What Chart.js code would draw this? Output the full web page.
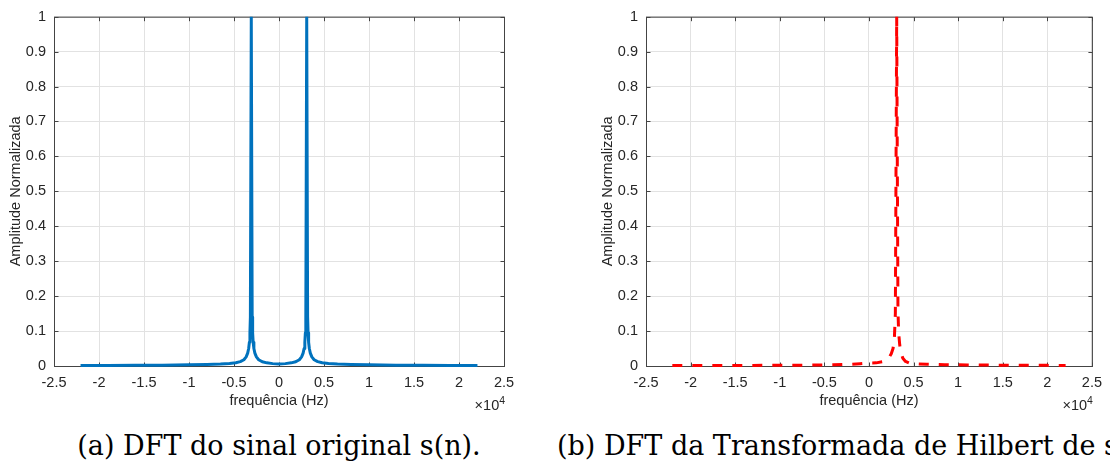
<!DOCTYPE html>
<html>
<head>
<meta charset="utf-8">
<script src="https://cdn.jsdelivr.net/npm/chart.js@4.4.1/dist/chart.umd.min.js"></script>
<style>
  html, body { margin: 0; padding: 0; background: #fff; }
  #wrap { position: relative; width: 1110px; height: 466px; overflow: hidden; background: #fff; }
  canvas { position: absolute; top: 0; }
  #chartA { left: 0; }
  #chartB { left: 592px; }
  .cap { position: absolute; top: 430px; height: 32px; line-height: 32px;
         font-family: 'DejaVu Serif', 'Liberation Serif', serif; font-size: 27px;
         white-space: nowrap; color: #000; }
  #capA { left: 279px; transform: translateX(-50%); }
  #capB { left: 557px; }
</style>
</head>
<body>
<div id="wrap">
  <canvas id="chartA" width="555" height="430"></canvas>
  <canvas id="chartB" width="518" height="430"></canvas>
  <div class="cap" id="capA">(a) DFT do sinal original s(n).</div>
  <div class="cap" id="capB">(b) DFT da Transformada de Hilbert de s(n).</div>
</div>
<script>
// Frequency axis (Hz) and normalised magnitude of the original signal's DFT
const freqOriginal = [
  -22050, -19000, -16000, -13000, -10000, -8000, -6500, -5500, -4800, -4300,
  -3900, -3650, -3480, -3370, -3290, -3230, -3180,
  -3080, -2980, -2930, -2870, -2790, -2680, -2510,
  -2260, -1860, -1360, -700, 0, 700, 1360, 1860, 2260, 2510,
  2680, 2790, 2870, 2930, 2980, 3080,
  3180, 3230, 3290, 3370, 3480, 3650, 3900, 4300,
  4800, 5500, 6500, 8000, 10000, 13000, 16000, 19000, 22050
];
const ampOriginal = [
  0.0015, 0.0017, 0.0020, 0.0025, 0.0033, 0.0043, 0.0056, 0.0072, 0.0092, 0.0125,
  0.018, 0.026, 0.037, 0.050, 0.068, 0.095, 0.14,
  1.0, 0.14, 0.095, 0.068, 0.050, 0.037, 0.026,
  0.018, 0.012, 0.009, 0.0068, 0.0055, 0.0068, 0.009, 0.012, 0.018, 0.026,
  0.037, 0.050, 0.068, 0.095, 0.14, 1.0,
  0.14, 0.095, 0.068, 0.050, 0.037, 0.026, 0.018, 0.0125,
  0.0092, 0.0072, 0.0056, 0.0043, 0.0033, 0.0025, 0.0020, 0.0017, 0.0015
];

// Frequency axis (Hz) and normalised magnitude of the Hilbert transform's DFT
const freqHilbert = [
  -22050, -19000, -16000, -13000, -10000, -7000, -4000, -2000, -1000, 0,
  800, 1500, 2000, 2300, 2500, 2700, 2850, 2960,
  3110, 3250, 3330, 3450, 3600, 3800, 4100, 4500,
  5200, 6500, 8500, 11000, 14000, 17000, 20000, 22050
];
const ampHilbert = [
  0.0012, 0.0013, 0.0015, 0.0017, 0.0020, 0.0025, 0.0035, 0.0050, 0.0065, 0.0085,
  0.0090, 0.012, 0.017, 0.026, 0.035, 0.050, 0.080, 0.15,
  1.0, 0.16, 0.095, 0.060, 0.038, 0.022, 0.013, 0.0085,
  0.0065, 0.0050, 0.0038, 0.0030, 0.0025, 0.0020, 0.0018, 0.0016
];

// Axis ticks
const xTickValues = [-25000, -20000, -15000, -10000, -5000, 0, 5000, 10000, 15000, 20000, 25000];
const xTickLabels = ['-2.5', '-2', '-1.5', '-1', '-0.5', '0', '0.5', '1', '1.5', '2', '2.5'];
const yTickValues = [0, 0.1, 0.2, 0.3, 0.4, 0.5, 0.6, 0.7, 0.8, 0.9, 1];
const yTickLabels = ['0', '0.1', '0.2', '0.3', '0.4', '0.5', '0.6', '0.7', '0.8', '0.9', '1'];

const xTitle = 'frequência (Hz)';
const yTitle = 'Amplitude Normalizada';
const xExponent = '4';

const FONT = "'Liberation Sans', Arial, Helvetica, sans-serif";
const FONT_SIZE = 14.5;
const TEXT = '#262626';
const AXIS = '#444444';
const GRID = '#e2e2e2';

// Boxed axes with inward ticks on all four sides, axis titles and the x10^n multiplier
const boxedAxes = {
  id: 'boxedAxes',
  beforeDatasetsDraw(chart) {
    const { ctx, chartArea: a, scales: { x, y } } = chart;
    ctx.save();
    ctx.strokeStyle = AXIS;
    ctx.lineWidth = 1;
    ctx.strokeRect(a.left + 0.5, a.top + 0.5, a.right - a.left, a.bottom - a.top);
    const tl = 4;
    ctx.beginPath();
    xTickValues.forEach(v => {
      const px = Math.round(x.getPixelForValue(v)) + 0.5;
      ctx.moveTo(px, a.bottom + 0.5); ctx.lineTo(px, a.bottom + 0.5 - tl);
      ctx.moveTo(px, a.top + 0.5); ctx.lineTo(px, a.top + 0.5 + tl);
    });
    yTickValues.forEach(v => {
      const py = Math.round(y.getPixelForValue(v)) + 0.5;
      ctx.moveTo(a.left + 0.5, py); ctx.lineTo(a.left + 0.5 + tl, py);
      ctx.moveTo(a.right + 0.5, py); ctx.lineTo(a.right + 0.5 - tl, py);
    });
    ctx.stroke();
    ctx.restore();
  },
  afterDraw(chart) {
    const { ctx, chartArea: a } = chart;
    ctx.save();
    ctx.fillStyle = TEXT;
    ctx.font = FONT_SIZE + 'px ' + FONT;
    ctx.textAlign = 'center';
    ctx.textBaseline = 'middle';
    ctx.fillText(xTitle, (a.left + a.right) / 2, a.bottom + 35);
    ctx.save();
    ctx.translate(a.left - 38, (a.top + a.bottom) / 2);
    ctx.rotate(-Math.PI / 2);
    ctx.fillText(yTitle, 0, 0);
    ctx.restore();
    // multiplier below the right end of the x axis
    ctx.textAlign = 'right';
    ctx.textBaseline = 'alphabetic';
    ctx.font = (FONT_SIZE * 0.72) + 'px ' + FONT;
    const supW = ctx.measureText(xExponent).width;
    ctx.fillText(xExponent, a.right + 1, a.bottom + 38);
    ctx.font = FONT_SIZE + 'px ' + FONT;
    ctx.fillText('\u00d710', a.right + 1 - supW, a.bottom + 44);
    ctx.restore();
  }
};

function makeChart(id, freq, amp, style, padRight) {
  return new Chart(document.getElementById(id), {
    type: 'line',
    data: {
      datasets: [{
        data: freq.map((f, i) => ({ x: f, y: amp[i] })),
        borderColor: style.color,
        borderWidth: style.width,
        borderDash: style.dash,
        borderJoinStyle: 'round',
        borderCapStyle: 'butt',
        pointRadius: 0,
        tension: 0,
        fill: false,
        clip: { left: 5, right: 5, top: 0, bottom: 5 }
      }]
    },
    options: {
      responsive: false,
      animation: false,
      devicePixelRatio: 1,
      layout: { padding: { left: 0, top: 11, right: padRight, bottom: 0 } },
      plugins: { legend: { display: false }, tooltip: { enabled: false }, title: { display: false } },
      scales: {
        x: {
          type: 'linear',
          min: -25000, max: 25000,
          afterBuildTicks: s => { s.ticks = xTickValues.map(v => ({ value: v })); },
          afterFit: s => { s.height = 64; },
          grid: { color: GRID, lineWidth: 1, drawTicks: false },
          border: { display: false },
          ticks: {
            autoSkip: false, maxRotation: 0, padding: 8,
            color: TEXT, font: { family: FONT, size: FONT_SIZE },
            callback: (v, i) => xTickLabels[i]
          }
        },
        y: {
          type: 'linear',
          min: 0, max: 1,
          afterBuildTicks: s => { s.ticks = yTickValues.map(v => ({ value: v })); },
          afterFit: s => { s.width = 54; },
          grid: { color: GRID, lineWidth: 1, drawTicks: false },
          border: { display: false },
          ticks: {
            padding: 8,
            color: TEXT, font: { family: FONT, size: FONT_SIZE },
            callback: (v, i) => yTickLabels[i]
          }
        }
      }
    },
    plugins: [boxedAxes]
  });
}

makeChart('chartA', freqOriginal, ampOriginal, { color: '#0072BD', width: 3, dash: [] }, 51);
makeChart('chartB', freqHilbert, ampHilbert, { color: '#FF0000', width: 3, dash: [10, 10] }, 14);
</script>
</body>
</html>
